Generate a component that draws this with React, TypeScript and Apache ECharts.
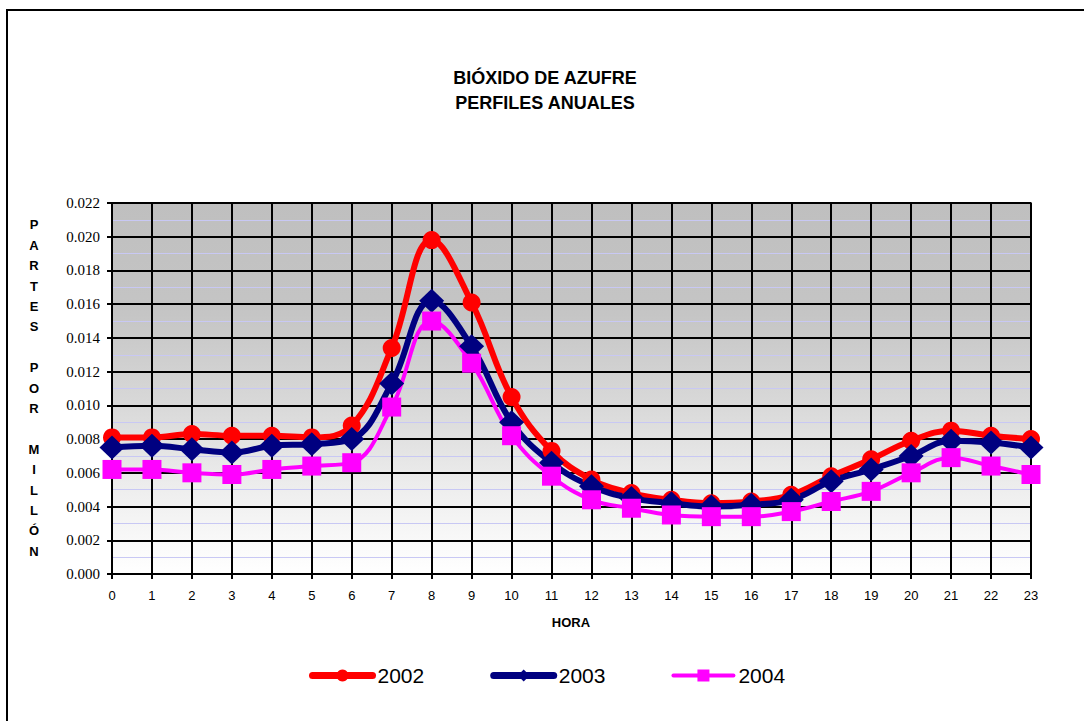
import React, { useEffect, useRef } from "react";
import * as echarts from "echarts";

const hours = ["0","1","2","3","4","5","6","7","8","9","10","11","12","13","14","15","16","17","18","19","20","21","22","23"];

const s2002 = [0.0081,0.0081,0.0083,0.0082,0.0082,0.0081,0.0088,0.0134,0.0198,0.0161,0.0105,0.0073,0.0056,0.0048,0.0044,0.0042,0.0043,0.0047,0.0058,0.0068,0.0079,0.0085,0.0082,0.0080];
const s2003 = [0.0075,0.0076,0.0074,0.0072,0.0076,0.0077,0.0080,0.0113,0.0162,0.0135,0.0090,0.0066,0.0052,0.0045,0.0042,0.0040,0.0041,0.0044,0.0055,0.0062,0.0070,0.0079,0.0078,0.0075];
const s2004 = [0.0062,0.0062,0.0060,0.0059,0.0062,0.0064,0.0066,0.0099,0.0150,0.0125,0.0082,0.0058,0.0044,0.0039,0.0035,0.0034,0.0034,0.0037,0.0043,0.0049,0.0060,0.0069,0.0064,0.0059];

const titleLines = ["BIÓXIDO DE AZUFRE", "PERFILES ANUALES"];
const yTitle = "P\nA\nR\nT\nE\nS\n\nP\nO\nR\n\nM\nI\nL\nL\nÓ\nN";
const xTitle = "HORA";

const SANS = "'Liberation Sans', Arial, sans-serif";
const SERIF = "'Liberation Serif', 'Times New Roman', serif";

export default function App() {
  const ref = useRef<HTMLDivElement>(null);
  useEffect(() => {
    if (!ref.current) return;
    const chart = echarts.init(ref.current, null, { renderer: "svg" });
    const option = {
      animation: false,
      backgroundColor: "#ffffff",
      textStyle: { fontFamily: SANS },
      graphic: [
        {
          type: "rect",
          shape: { x: 7, y: 10, width: 1200, height: 800 },
          style: { fill: "none", stroke: "#000", lineWidth: 2 },
          silent: true,
        },
        {
          type: "text",
          x: 545,
          y: 78,
          style: {
            text: titleLines[0],
            fontFamily: SANS,
            fontWeight: "bold",
            fontSize: 18,
            fill: "#000",
            align: "center",
            verticalAlign: "middle",
          },
        },
        {
          type: "text",
          x: 545,
          y: 103,
          style: {
            text: titleLines[1],
            fontFamily: SANS,
            fontWeight: "bold",
            fontSize: 18,
            fill: "#000",
            align: "center",
            verticalAlign: "middle",
          },
        },
        {
          type: "text",
          x: 34,
          y: 388,
          style: {
            text: yTitle,
            fontFamily: SANS,
            fontWeight: "bold",
            fontSize: 13,
            lineHeight: 20.4,
            fill: "#000",
            align: "center",
            verticalAlign: "middle",
          },
        },
        {
          type: "text",
          x: 571,
          y: 622,
          style: {
            text: xTitle,
            fontFamily: SANS,
            fontWeight: "bold",
            fontSize: 13,
            fill: "#000",
            align: "center",
            verticalAlign: "middle",
          },
        },
      ],
      legend: {
        left: 309,
        top: 665,
        padding: 0,
        itemWidth: 60,
        itemHeight: 15,
        itemGap: 66,
        textStyle: { fontSize: 21, fontFamily: SANS, color: "#000" },
        data: [
          { name: "2002", lineStyle: { width: 7, cap: "round" } },
          { name: "2003", lineStyle: { width: 7, cap: "round" } },
          { name: "2004", lineStyle: { width: 4, cap: "round" } },
        ],
      },
      grid: {
        left: 112,
        top: 203,
        right: 53,
        bottom: 147,
        show: true,
        borderColor: "#808080",
        borderWidth: 2,
        backgroundColor: new echarts.graphic.LinearGradient(0, 0, 0, 1, [
          { offset: 0, color: "#bfbfbf" },
          { offset: 0.3, color: "#c5c5c5" },
          { offset: 0.55, color: "#d9d9d9" },
          { offset: 0.75, color: "#ececec" },
          { offset: 0.9, color: "#f8f8f8" },
          { offset: 1, color: "#ffffff" },
        ]),
      },
      xAxis: {
        type: "category",
        data: hours,
        boundaryGap: false,
        axisLine: { show: true, lineStyle: { color: "#000", width: 2 } },
        axisTick: { show: true, length: 5, lineStyle: { color: "#000", width: 2 } },
        axisLabel: {
          interval: 0,
          margin: 15,
          fontSize: 13,
          fontFamily: SANS,
          color: "#000",
        },
        splitLine: { show: true, interval: 0, lineStyle: { color: "#000", width: 2 } },
      },
      yAxis: {
        type: "value",
        min: 0,
        max: 0.022,
        interval: 0.002,
        axisLine: { show: true, lineStyle: { color: "#000", width: 2 } },
        axisTick: { show: true, length: 5, lineStyle: { color: "#000", width: 2 } },
        axisLabel: {
          margin: 12,
          fontSize: 15,
          fontFamily: SERIF,
          color: "#000",
          formatter: (v: number) => v.toFixed(3),
        },
        splitLine: { show: true, lineStyle: { color: "#000", width: 2 } },
        minorTick: { show: false, splitNumber: 2 },
        minorSplitLine: { show: true, lineStyle: { color: "#c8c8f4", width: 1 } },
      },
      series: [
        {
          name: "2002",
          type: "line",
          data: s2002,
          smooth: 0.4,
          symbol: "circle",
          symbolSize: 18,
          lineStyle: { color: "#ff0000", width: 6 },
          itemStyle: { color: "#ff0000" },
        },
        {
          name: "2003",
          type: "line",
          data: s2003,
          smooth: 0.4,
          symbol: "diamond",
          symbolSize: [25, 24],
          lineStyle: { color: "#000080", width: 6 },
          itemStyle: { color: "#000080" },
        },
        {
          name: "2004",
          type: "line",
          data: s2004,
          smooth: 0.4,
          symbol: "rect",
          symbolSize: 19,
          lineStyle: { color: "#ff00ff", width: 4 },
          itemStyle: { color: "#ff00ff" },
        },
      ],
    };
    chart.setOption(option as any);
    return () => chart.dispose();
  }, []);
  return (
    <div
      ref={ref}
      style={{ position: "absolute", left: 0, top: 0, width: 1084, height: 721 }}
    />
  );
}
